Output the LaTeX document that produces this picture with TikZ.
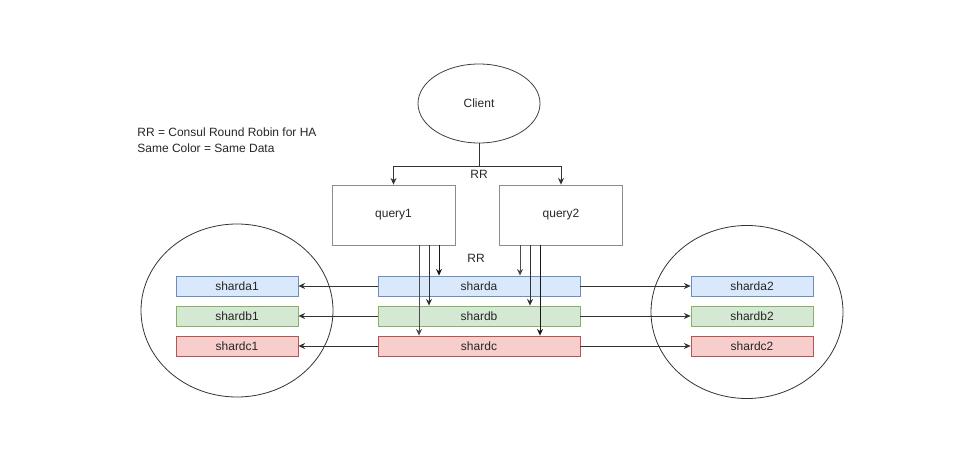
\documentclass[tikz,border=0pt]{standalone}
\usepackage{fontspec}
\setmainfont{Liberation Sans}
\usepackage{xcolor}
\usetikzlibrary{shapes.geometric,arrows.meta}

\definecolor{fillA}{HTML}{DAE8FC}
\definecolor{lineA}{HTML}{6C8EBF}
\definecolor{fillB}{HTML}{D5E8D4}
\definecolor{lineB}{HTML}{82B366}
\definecolor{fillC}{HTML}{F8CECC}
\definecolor{lineC}{HTML}{B85450}

\begin{document}
\begin{tikzpicture}[
        x=0.75pt, y=-0.75pt,
        font=\fontsize{9}{12}\selectfont,
        line width=0.6pt,
        >={Stealth[length=5pt,width=4.5pt]},
        every node/.style={text=black!85},
        querybox/.style={draw=black!45, minimum width=92.25pt, minimum height=45pt},
        shardbox/.style n args={2}{draw=#2, fill=#1, minimum height=15pt, inner sep=0pt},
        midshard/.style={minimum width=151.5pt},
        sideshard/.style={minimum width=91.5pt},
        ring/.style={draw=black!80, ellipse, minimum width=144pt, minimum height=129.75pt}
    ]
        \useasboundingbox (0,0) rectangle (980,459);

        \node[align=left, anchor=west, inner sep=0pt] (legend) at (137,140) {RR = Consul Round Robin for HA\\Same Color = Same Data};

        \node[draw=black!75, ellipse, minimum width=91.5pt, minimum height=59.25pt] (client) at (479,103.5) {Client};
        \node[querybox] (query1) at (393.5,215) {query1};
        \node[querybox] (query2) at (561,215) {query2};

        \node[ring] (left) at (237,310.5) {};
        \node[ring] (right) at (747,312) {};

        \node[shardbox={fillA}{lineA}, midshard] (sharda) at (479,286) {sharda};
        \node[shardbox={fillB}{lineB}, midshard] (shardb) at (479,316) {shardb};
        \node[shardbox={fillC}{lineC}, midshard] (shardc) at (479,346) {shardc};
        \node[shardbox={fillA}{lineA}, sideshard] (sharda1) at (237,286) {sharda1};
        \node[shardbox={fillB}{lineB}, sideshard] (shardb1) at (237,316) {shardb1};
        \node[shardbox={fillC}{lineC}, sideshard] (shardc1) at (237,346) {shardc1};
        \node[shardbox={fillA}{lineA}, sideshard] (sharda2) at (752,286) {sharda2};
        \node[shardbox={fillB}{lineB}, sideshard] (shardb2) at (752,316) {shardb2};
        \node[shardbox={fillC}{lineC}, sideshard] (shardc2) at (752,346) {shardc2};

        \coordinate (split) at (479,166);
        \draw[black!80] (client) -- (split);
        \draw[->, black!80] (split) -| (query1);
        \draw[->, black!80] (split) -| (query2);
        \node[below=1pt, inner sep=2pt] (rr1) at (split) {RR};
        \node (rr2) at (476,258) {RR};

        \coordinate (laneqc1) at (419,0);
        \coordinate (laneqb1) at (429,0);
        \coordinate (laneqa1) at (439,0);
        \coordinate (laneqa2) at (520,0);
        \coordinate (laneqb2) at (530,0);
        \coordinate (laneqc2) at (540,0);

        \draw[->, black!70] (query1.south -| laneqc1) -- (shardc.north -| laneqc1);
        \draw[->, black!80] (query1.south -| laneqb1) -- (shardb.north -| laneqb1);
        \draw[->, black!90] (query1.south -| laneqa1) -- (sharda.north -| laneqa1);
        \draw[->, black!70] (query2.south -| laneqa2) -- (sharda.north -| laneqa2);
        \draw[->, black!80] (query2.south -| laneqb2) -- (shardb.north -| laneqb2);
        \draw[->, black!90] (query2.south -| laneqc2) -- (shardc.north -| laneqc2);

        \draw[->, black!80] (sharda) -- (sharda1);
        \draw[->, black!80] (shardb) -- (shardb1);
        \draw[->, black!80] (shardc) -- (shardc1);
        \draw[->, black!80] (sharda) -- (sharda2);
        \draw[->, black!80] (shardb) -- (shardb2);
        \draw[->, black!80] (shardc) -- (shardc2);
    \end{tikzpicture}
\end{document}
